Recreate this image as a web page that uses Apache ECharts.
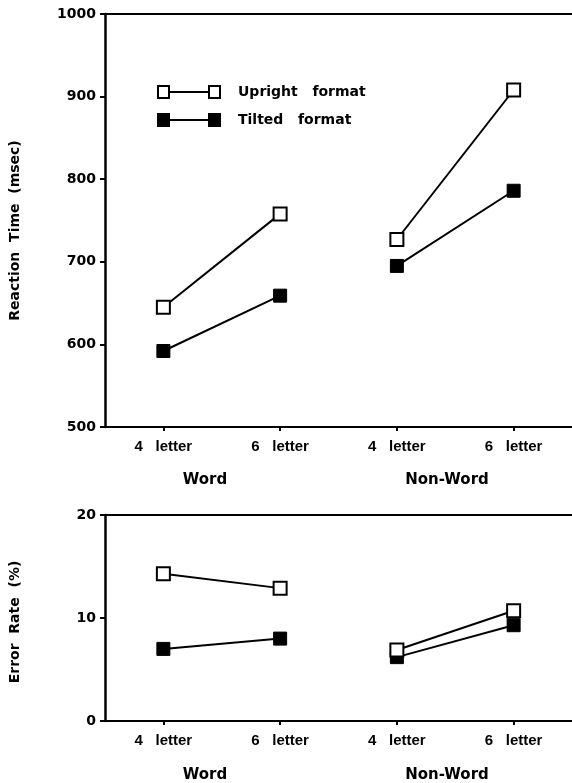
<!DOCTYPE html>
<html><head><meta charset="utf-8">
<script src="https://cdn.jsdelivr.net/npm/echarts@6/dist/echarts.min.js"></script>
<style>html,body{margin:0;padding:0;background:#fff}#c{width:572px;height:783px}</style>
</head><body><div id="c"></div>
<script>
const categories = ['4   letter', '6   letter', '4   letter', '6   letter'];
const groupOfCategory = ['Word', 'Word', 'Non-Word', 'Non-Word'];
const groups = ['Word', 'Non-Word'];
const rtUpright = [645, 758, 727, 908];
const rtTilted = [592, 659, 695, 786];
const errUpright = [14.3, 12.9, 6.9, 10.7];
const errTilted = [7.0, 8.0, 6.2, 9.3];
const rtTicks = [500, 1000, 100];
const errTicks = [0, 20, 10];
const seriesNames = ['Upright   format', 'Tilted   format'];

const FONT = 'DejaVu Sans';
const txt = { color: '#000', fontFamily: FONT, fontWeight: 'bold', fontSize: 14 };

function mask(arr, g) {
  return arr.map((v, i) => groupOfCategory[i] === g ? v : '-');
}
const markerStyle = [
  { color: '#fff', borderColor: '#000', borderWidth: 2 },
  { color: '#000', borderColor: '#000', borderWidth: 1 }
];
const series = [];
[[rtUpright, rtTilted], [errUpright, errTilted]].forEach((pair, gi) => {
  pair.forEach((arr, si) => {
    groups.forEach(g => {
      series.push({
        type: 'line', name: seriesNames[si], xAxisIndex: gi * 2, yAxisIndex: gi,
        data: mask(arr, g), connectNulls: false,
        symbol: 'rect', symbolSize: 13, showSymbol: true,
        lineStyle: { color: '#000', width: 2 },
        itemStyle: markerStyle[si], z: si === 0 ? 3 : 2,
        emphasis: { disabled: true }, silent: true
      });
    });
  });
});

const grids = [
  { left: 100, right: 0, top: 14, height: 413 },
  { left: 100, right: 0, top: 515, height: 206 }
];
const xAxes = [];
grids.forEach((g, i) => {
  xAxes.push({
    type: 'category', gridIndex: i, data: categories, position: 'bottom',
    axisLine: { lineStyle: { color: '#000', width: 2 } },
    axisTick: { show: true, alignWithLabel: true, length: 4, lineStyle: { color: '#000', width: 2 } },
    axisLabel: Object.assign({ margin: 12, interval: 0 }, txt, { fontFamily: 'Liberation Sans', fontSize: 15 }),
    splitLine: { show: false }
  });
  xAxes.push({
    type: 'value', gridIndex: i, position: 'top', min: 0, max: 1,
    axisLine: { show: true, onZero: false, lineStyle: { color: '#000', width: 2 } },
    axisTick: { show: false }, axisLabel: { show: false }, splitLine: { show: false }
  });
});
const yAxes = [
  { ticks: rtTicks, name: 'Reaction  Time  (msec)', pad: [0, 20, 0, 0] },
  { ticks: errTicks, name: 'Error  Rate  (%)', pad: [0, 8, 0, 0] }
].map((a, i) => ({
  type: 'value', gridIndex: i, min: a.ticks[0], max: a.ticks[1], interval: a.ticks[2],
  name: a.name, nameLocation: 'middle', nameGap: 83, nameRotate: 90,
  nameTextStyle: Object.assign({ padding: a.pad }, txt),
  axisLine: { show: true, lineStyle: { color: '#000', width: 2.5 } },
  axisTick: { show: true, length: 5, lineStyle: { color: '#000', width: 2 } },
  axisLabel: Object.assign({ margin: 9, formatter: v => String(v) }, txt),
  splitLine: { show: false }
}));

const uprightIcon = 'path://M0,0H13V14H0Z M2,2V12H11V2Z M13,6H51V8H13Z M51,0H64V14H51Z M53,2V12H62V2Z';
const tiltedIcon = 'path://M0,0H13V14H0Z M13,6H51V8H13Z M51,0H64V14H51Z';

const groupLabelPos = [[205, 480], [447, 480], [205, 775], [447, 775]];
const graphic = groupLabelPos.map((p, i) => ({
  type: 'text', x: p[0], y: p[1],
  style: { text: groups[i % 2], fill: '#000', font: 'bold 15px "DejaVu Sans"', align: 'center', verticalAlign: 'middle' }
}));

const chart = echarts.init(document.getElementById('c'), null, { renderer: 'canvas' });
chart.setOption({
  animation: false,
  backgroundColor: '#fff',
  grid: grids,
  xAxis: xAxes,
  yAxis: yAxes,
  legend: {
    left: 157, top: 85, padding: 0, orient: 'vertical', itemWidth: 64, itemHeight: 14, itemGap: 14,
    selectedMode: false,
    textStyle: Object.assign({ padding: [0, 0, 0, 12] }, txt),
    data: [
      { name: seriesNames[0], icon: uprightIcon, itemStyle: { color: '#000', borderWidth: 0 } },
      { name: seriesNames[1], icon: tiltedIcon, itemStyle: { color: '#000', borderWidth: 0 } }
    ]
  },
  graphic: graphic,
  series: series
});
</script></body></html>
